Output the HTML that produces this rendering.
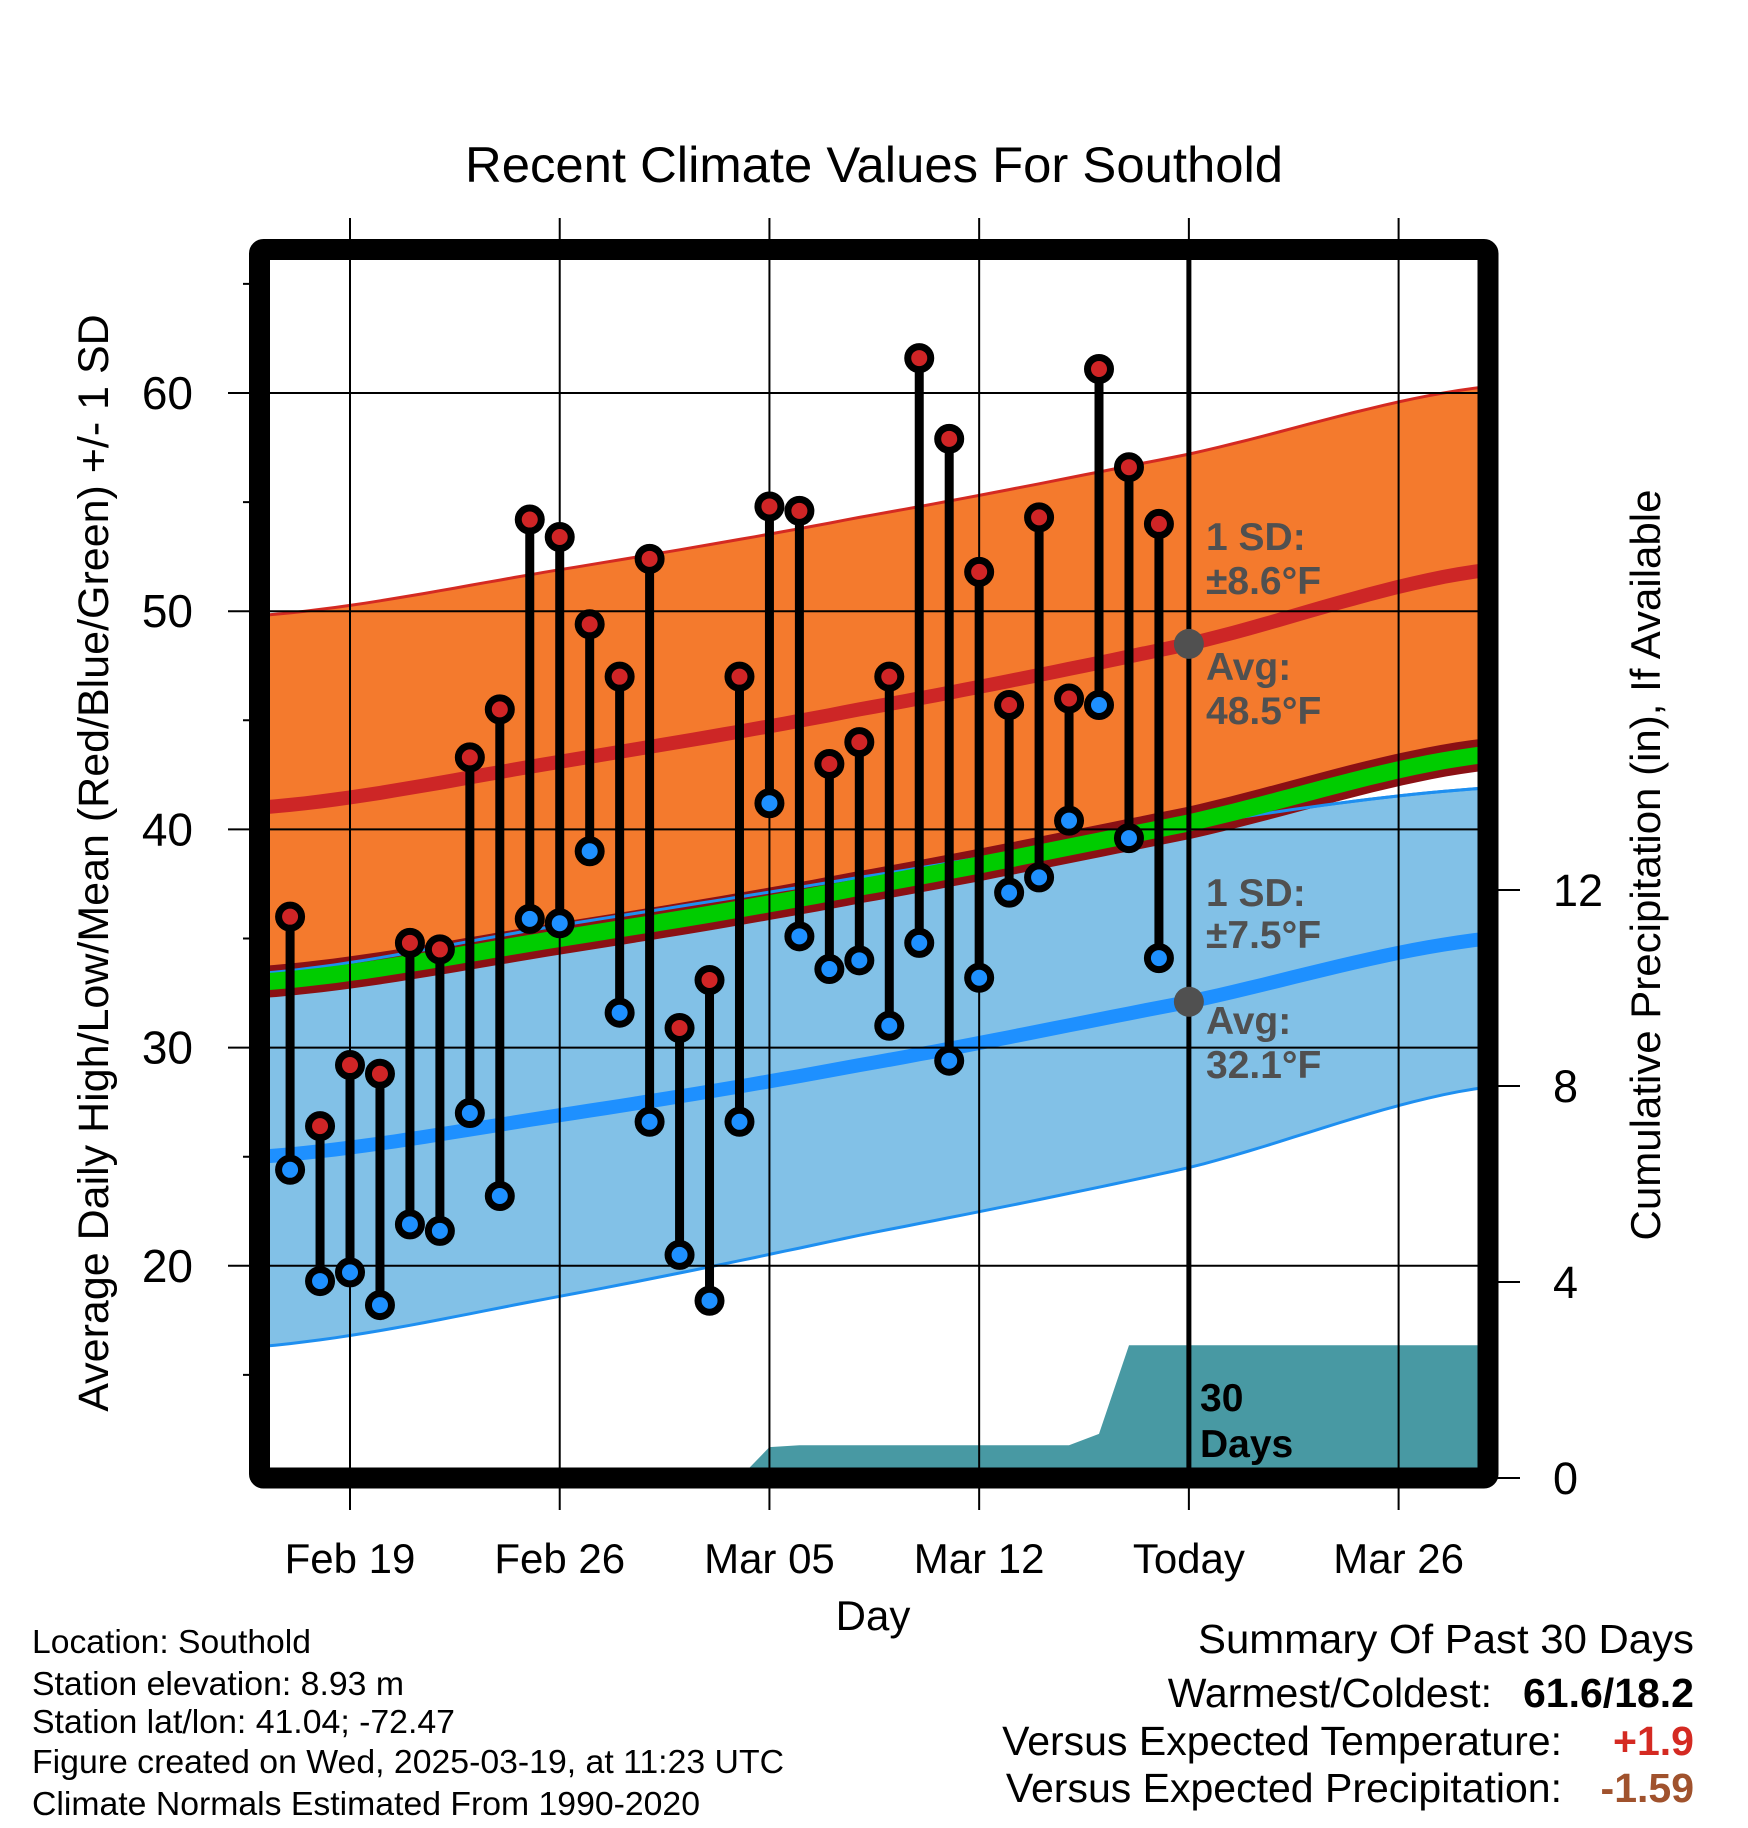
<!DOCTYPE html>
<html><head><meta charset="utf-8"><style>
html,body{margin:0;padding:0;background:#fff;}
svg{display:block;font-family:"Liberation Sans",Arial,sans-serif;}
</style></head><body>
<svg id="chart" width="1748" height="1828" viewBox="0 0 1748 1828" xmlns="http://www.w3.org/2000/svg"></svg>
<script>
// ---- data (day index relative to Feb 19) ----
const obsStartDay = -2; // Feb 17
const highs = [36.0,26.4,29.2,28.8,34.8,34.5,43.3,45.5,54.2,53.4,49.4,47.0,52.4,30.9,33.1,47.0,54.8,54.6,43.0,44.0,47.0,61.6,57.9,51.8,45.7,54.3,46.0,61.1,56.6,54.0];
const lows = [24.4,19.3,19.7,18.2,21.9,21.6,27.0,23.2,35.9,35.7,39.0,31.6,26.6,20.5,18.4,26.6,41.2,35.1,33.6,34.0,31.0,34.8,29.4,33.2,37.1,37.8,40.4,45.7,39.6,34.1];
const precip = [0,0,0,0,0,0,0,0,0,0,0,0,0,0,0,0,0.63,0.67,0.67,0.67,0.67,0.67,0.67,0.67,0.67,0.67,0.67,0.90,2.71,2.71];
const normDays = [-3,7,17,28,38];
const hiAvg = [41.0,43.1,45.5,48.5,51.9];
const hiUp  = [49.8,51.9,54.3,57.2,60.3];
const hiLo  = [33.6,35.4,37.7,40.6,43.6];
const loAvg = [25.0,26.9,29.2,32.1,35.0];
const loUp  = [33.4,35.6,37.8,40.2,41.9];
const loLo  = [16.3,18.6,21.4,24.5,28.2];
const xTickDays = [0,7,14,21,28,35];
const xTickLabels = ["Feb 19","Feb 26","Mar 05","Mar 12","Today","Mar 26"];
const yTicks = [20,30,40,50,60];
const yMinor = [15,25,35,45,55,65];
const pTicks = [0,4,8,12];
const todayDay = 28;

// ---- axes ----
const X0=350, DX=29.96;
const x = d => X0 + d*DX;
const y = t => 393 + (60-t)*21.82;
const yp = p => 1478 - p*49;
const L=259.5, R=1488, T=249.5, B=1478;

const NS="http://www.w3.org/2000/svg";
const svg=document.getElementById('chart');
function el(tag, attrs, parent){const e=document.createElementNS(NS,tag);for(const k in attrs)e.setAttribute(k,attrs[k]);(parent||svg).appendChild(e);return e;}
function txt(s, attrs, parent){const e=el('text',attrs,parent);e.textContent=s;return e;}
function interp(arr, d){
  // smooth (Catmull-Rom style) interpolation through samples
  let i=0;while(i<normDays.length-2&&d>normDays[i+1])i++;
  const t=(d-normDays[i])/(normDays[i+1]-normDays[i]);
  const p0=arr[Math.max(i-1,0)],p1=arr[i],p2=arr[i+1],p3=arr[Math.min(i+2,arr.length-1)];
  const m1=(p2-p0)/2,m2=(p3-p1)/2;
  const t2=t*t,t3=t2*t;
  return (2*t3-3*t2+1)*p1+(t3-2*t2+t)*m1+(-2*t3+3*t2)*p2+(t3-t2)*m2;
}
function curve(arr){const pts=[];for(let d=-3;d<=38;d+=0.5)pts.push([x(d),y(interp(arr,d))]);return pts;}
const ptsStr=p=>p.map(q=>q[0].toFixed(1)+','+q[1].toFixed(1)).join(' ');

const defs=el('defs',{});
const cp=el('clipPath',{id:'plotclip'},defs);
el('rect',{x:L,y:T,width:R-L,height:B-T},cp);
const g=el('g',{'clip-path':'url(#plotclip)'});



let up=curve(hiUp), lo=curve(hiLo).reverse();
let e=el('polygon',{points:ptsStr(up.concat(lo)),fill:'#f47a2d'},g);

up=curve(loUp); lo=curve(loLo).reverse();
e=el('polygon',{points:ptsStr(up.concat(lo)),fill:'#82c1e7'},g);

[[hiUp,'#d42a22',3,'high-upper-edge'],[loLo,'#1e8ff0',3,'low-lower-edge'],[loUp,'#1e8ff0',3,'low-upper-edge']].forEach(a=>{
  const p=el('polyline',{points:ptsStr(curve(a[0])),fill:'none',stroke:a[1],'stroke-width':a[2]},g);
  
});
const meanArr=hiAvg.map((v,i)=>(v+loAvg[i])/2);
e=el('polyline',{points:ptsStr(curve(meanArr)),fill:'none',stroke:'#8b1014','stroke-width':32},g);

e=el('polyline',{points:ptsStr(curve(loUp)),fill:'none',stroke:'#1e8ff0','stroke-width':3},g);

e=el('polyline',{points:ptsStr(curve(meanArr)),fill:'none',stroke:'#00cc00','stroke-width':17},g);

e=el('polyline',{points:ptsStr(curve(hiAvg)),fill:'none',stroke:'#cd2626','stroke-width':14},g);

e=el('polyline',{points:ptsStr(curve(loAvg)),fill:'none',stroke:'#1e90ff','stroke-width':14},g);


const pp=[[x(obsStartDay),yp(0)]];
precip.forEach((v,i)=>pp.push([x(obsStartDay+i),yp(v)]));
pp.push([R,yp(precip[precip.length-1])]);pp.push([R,yp(0)]);
e=el('polygon',{points:ptsStr(pp),fill:'#4899a3'},g);


yTicks.forEach(t=>{const l=el('line',{x1:228,x2:R,y1:y(t),y2:y(t),stroke:'#000','stroke-width':2});
  });
yMinor.forEach(t=>{const l=el('line',{x1:243,x2:L,y1:y(t),y2:y(t),stroke:'#000','stroke-width':2});
  });
xTickDays.forEach(d=>{const l=el('line',{x1:x(d),x2:x(d),y1:218,y2:1510,stroke:'#000','stroke-width':2});
  });
pTicks.forEach(p=>{const l=el('line',{x1:R,x2:1520,y1:yp(p),y2:yp(p),stroke:'#000','stroke-width':2});
  });

e=el('line',{x1:x(todayDay),x2:x(todayDay),y1:T,y2:B,stroke:'#000','stroke-width':5});


highs.forEach((h,i)=>{
  const cx=x(obsStartDay+i);
  const s=el('line',{x1:cx,x2:cx,y1:y(h),y2:y(lows[i]),stroke:'#000','stroke-width':9});
  
});
highs.forEach((h,i)=>{
  const cx=x(obsStartDay+i);
  const c1=el('circle',{cx:cx,cy:y(h),r:11.5,fill:'#d02526',stroke:'#000','stroke-width':7});
  
  const c2=el('circle',{cx:cx,cy:y(lows[i]),r:11.5,fill:'#1e90ff',stroke:'#000','stroke-width':7});
  
});
e=el('circle',{cx:x(todayDay),cy:y(interp(hiAvg,todayDay)),r:15,fill:'#505050'});

e=el('circle',{cx:x(todayDay),cy:y(interp(loAvg,todayDay)),r:15,fill:'#505050'});


const ann=[["1 SD:",550,'sd-high-label'],["±8.6°F",594,'sd-high-value'],["Avg:",680,'avg-high-label'],["48.5°F",724,'avg-high-value'],
["1 SD:",906,'sd-low-label'],["±7.5°F",948,'sd-low-value'],["Avg:",1034,'avg-low-label'],["32.1°F",1078,'avg-low-value']];
ann.forEach(a=>{const t=txt(a[0],{x:1206,y:a[1],'font-size':39,'font-weight':'bold',fill:'#505050'});
  });
e=txt("30",{x:1200,y:1411,'font-size':39,'font-weight':'bold',fill:'#000'});

e=txt("Days",{x:1200,y:1457,'font-size':39,'font-weight':'bold',fill:'#000'});


e=el('rect',{x:L,y:T,width:R-L,height:B-T,fill:'none',stroke:'#000','stroke-width':21,rx:4});


yTicks.forEach(t=>{const l=txt(String(t),{x:193,y:y(t)+16,'font-size':46,'text-anchor':'end'});
  });
pTicks.forEach(p=>{const l=txt(String(p),{x:1553,y:yp(p)+16,'font-size':45});
  });
xTickDays.forEach((d,i)=>{const l=txt(xTickLabels[i],{x:x(d),y:1573,'font-size':42,'text-anchor':'middle'});
  });
</script>
<svg style="position:absolute;left:0;top:0" width="1748" height="1828" xmlns="http://www.w3.org/2000/svg">
<g font-family="Liberation Sans, Arial, sans-serif">
<text x="874" y="182" font-size="50" text-anchor="middle" textLength="818" lengthAdjust="spacingAndGlyphs">Recent Climate Values For Southold</text>
<text transform="translate(108,863) rotate(-90)" font-size="43" text-anchor="middle">Average Daily High/Low/Mean (Red/Blue/Green) +/- 1 SD</text>
<text transform="translate(1660,865) rotate(-90)" font-size="42" text-anchor="middle">Cumulative Precipitation (in), If Available</text>
<text x="873" y="1630" font-size="42" text-anchor="middle">Day</text>
<g font-size="33">
<text x="32" y="1653" textLength="279" lengthAdjust="spacingAndGlyphs">Location: Southold</text>
<text x="32" y="1695" textLength="372" lengthAdjust="spacingAndGlyphs">Station elevation: 8.93 m</text>
<text x="32" y="1733" textLength="423" lengthAdjust="spacingAndGlyphs">Station lat/lon: 41.04; -72.47</text>
<text x="32" y="1773" textLength="752" lengthAdjust="spacingAndGlyphs">Figure created on Wed, 2025-03-19, at 11:23 UTC</text>
<text x="32" y="1815" textLength="668" lengthAdjust="spacingAndGlyphs">Climate Normals Estimated From 1990-2020</text>
</g>
<g font-size="41">
<text x="1694" y="1653" text-anchor="end" textLength="496" lengthAdjust="spacingAndGlyphs">Summary Of Past 30 Days</text>
<text x="1492" y="1707" text-anchor="end">Warmest/Coldest:</text>
<text x="1694" y="1707" text-anchor="end" font-weight="bold">61.6/18.2</text>
<text x="1562" y="1755" text-anchor="end">Versus Expected Temperature:</text>
<text x="1694" y="1755" text-anchor="end" font-weight="bold" fill="#d42a22">+1.9</text>
<text x="1562" y="1802" text-anchor="end">Versus Expected Precipitation:</text>
<text x="1694" y="1802" text-anchor="end" font-weight="bold" fill="#a0522d">-1.59</text>
</g>
</g>
</svg>
</body></html>
